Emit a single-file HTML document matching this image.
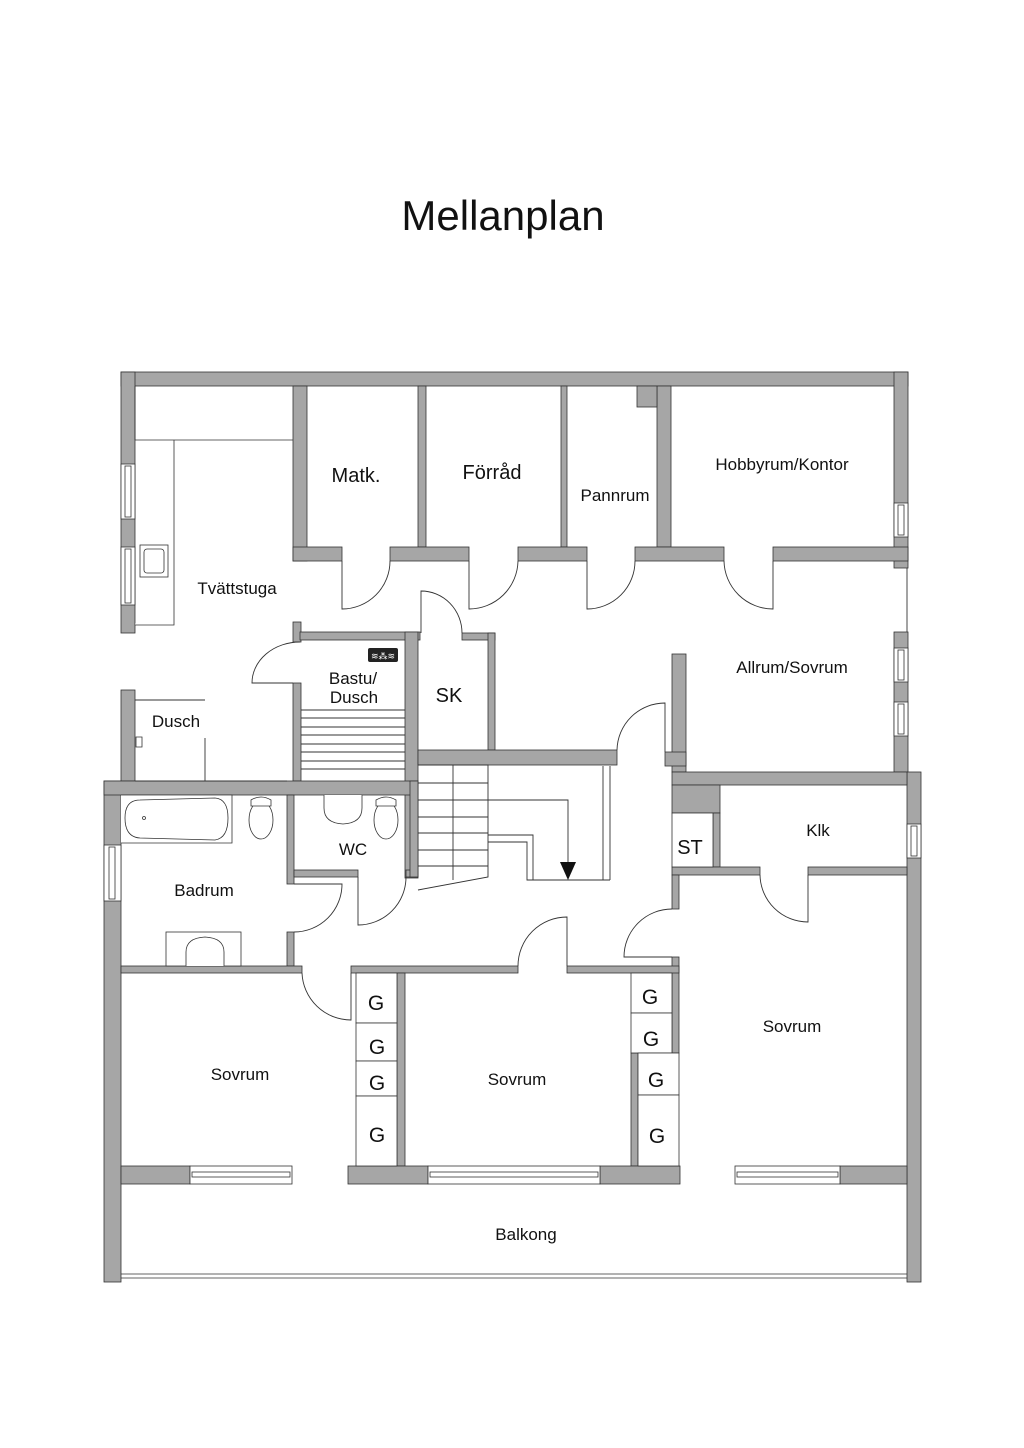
<!DOCTYPE html>
<html><head><meta charset="utf-8"><style>
html,body{margin:0;padding:0;background:#fff}
svg{display:block}
text{font-family:"Liberation Sans",sans-serif;fill:#111}
</style></head><body>
<svg width="1024" height="1448" viewBox="0 0 1024 1448" xmlns="http://www.w3.org/2000/svg">
<rect width="1024" height="1448" fill="#fff"/>
<text x="503" y="230" font-size="42" text-anchor="middle" font-weight="300">Mellanplan</text>
<g fill="#a6a6a6" stroke="#333" stroke-width="0.8">
<rect x="121" y="372" width="787" height="14"/>
<rect x="121" y="372" width="14" height="261"/>
<rect x="121" y="690" width="14" height="91"/>
<rect x="104" y="781" width="17" height="501"/>
<rect x="894" y="372" width="14" height="196"/>
<rect x="894" y="632" width="14" height="140"/>
<rect x="907" y="772" width="14" height="510"/>
<rect x="293" y="386" width="14" height="175"/>
<rect x="418" y="386" width="8" height="161"/>
<rect x="561" y="386" width="6" height="161"/>
<rect x="657" y="386" width="14" height="161"/>
<rect x="637" y="386" width="20" height="21"/>
<rect x="293" y="547" width="49" height="14"/>
<rect x="390" y="547" width="79" height="14"/>
<rect x="518" y="547" width="69" height="14"/>
<rect x="635" y="547" width="89" height="14"/>
<rect x="773" y="547" width="135" height="14"/>
<rect x="293" y="622" width="8" height="20"/>
<rect x="293" y="683" width="8" height="98"/>
<rect x="300" y="632" width="120" height="8"/>
<rect x="405" y="632" width="13" height="246"/>
<rect x="462" y="633" width="33" height="7"/>
<rect x="488" y="633" width="7" height="117"/>
<rect x="418" y="750" width="199" height="15"/>
<rect x="672" y="654" width="14" height="118"/>
<rect x="665" y="752" width="21" height="14"/>
<rect x="672" y="772" width="235" height="13"/>
<rect x="672" y="785" width="48" height="28"/>
<rect x="713" y="813" width="7" height="54"/>
<rect x="672" y="867" width="88" height="8"/>
<rect x="808" y="867" width="99" height="8"/>
<rect x="672" y="875" width="7" height="34"/>
<rect x="672" y="957" width="7" height="96"/>
<rect x="104" y="781" width="314" height="14"/>
<rect x="287" y="795" width="7" height="89"/>
<rect x="287" y="932" width="7" height="34"/>
<rect x="294" y="870" width="64" height="7"/>
<rect x="406" y="870" width="12" height="7"/>
<rect x="410" y="781" width="8" height="96"/>
<rect x="121" y="966" width="181" height="7"/>
<rect x="351" y="966" width="167" height="7"/>
<rect x="567" y="966" width="112" height="7"/>
<rect x="397" y="973" width="8" height="193"/>
<rect x="631" y="1053" width="7" height="113"/>
<rect x="121" y="1166" width="69" height="18"/>
<rect x="348" y="1166" width="80" height="18"/>
<rect x="600" y="1166" width="80" height="18"/>
<rect x="840" y="1166" width="67" height="18"/>
</g>
<g fill="#fff" stroke="#333" stroke-width="0.8">
<rect x="121" y="464" width="14" height="55"/><rect x="125" y="466" width="6" height="51"/>
<rect x="121" y="547" width="14" height="58"/><rect x="125" y="549" width="6" height="54"/>
<rect x="894" y="503" width="14" height="34"/><rect x="898" y="505" width="6" height="30"/>
<rect x="894" y="648" width="14" height="34"/><rect x="898" y="650" width="6" height="30"/>
<rect x="894" y="702" width="14" height="34"/><rect x="898" y="704" width="6" height="30"/>
<rect x="907" y="824" width="14" height="34"/><rect x="911" y="826" width="6" height="30"/>
<rect x="104" y="845" width="17" height="56"/><rect x="109" y="847" width="6" height="52"/>
<rect x="190" y="1166" width="102" height="18"/><rect x="192" y="1172" width="98" height="5"/>
<rect x="428" y="1166" width="172" height="18"/><rect x="430" y="1172" width="168" height="5"/>
<rect x="735" y="1166" width="105" height="18"/><rect x="737" y="1172" width="101" height="5"/>
<rect x="356" y="973" width="41" height="50"/><rect x="356" y="1023" width="41" height="38"/>
<rect x="356" y="1061" width="41" height="35"/><rect x="356" y="1096" width="41" height="70"/>
<rect x="631" y="973" width="41" height="40"/><rect x="631" y="1013" width="41" height="40"/>
<rect x="638" y="1053" width="41" height="42"/><rect x="638" y="1095" width="41" height="71"/>
<rect x="672" y="813" width="41" height="54"/>
<path d="M135 440H293M174 440V625H135"/>
<rect x="140" y="545" width="28" height="32"/>
<rect x="144" y="549" width="20" height="24" rx="3"/>
<path d="M121 795H232V843H121"/>
<path d="M140 800Q125 800 125 818Q125 837 140 838L215 840Q228 838 228 818Q228 799 215 798Z"/>
<circle cx="144" cy="818" r="1.5"/>
<ellipse cx="261" cy="820" rx="12" ry="19"/><path d="M251 800Q261 794 271 800V806H251Z"/>
<ellipse cx="386" cy="820" rx="12" ry="19"/><path d="M376 800Q386 794 396 800V806H376Z"/>
<path d="M324 795V808Q324 823 343 824Q362 823 362 808V795"/>
<rect x="166" y="932" width="75" height="34"/>
<path d="M186 966V952Q186 938 205 937Q224 938 224 952V966"/>
<path d="M121 1278H907M121 1274H907"/>
</g>
<g fill="none" stroke="#333" stroke-width="0.9">
<path d="M342 561V609A48 48 0 0 0 390 561"/>
<path d="M469 561V609A49 49 0 0 0 518 561"/>
<path d="M587 561V609A48 48 0 0 0 635 561"/>
<path d="M773 561V609A49 49 0 0 1 724 561"/>
<path d="M300 642A48 41 0 0 0 252 683H293"/>
<path d="M421 633V591A41 42 0 0 1 462 633"/>
<path d="M665 752V703A48 48 0 0 0 617 750"/>
<path d="M808 875V922A48 48 0 0 1 760 875"/>
<path d="M672 909A48 48 0 0 0 624 957H672"/>
<path d="M567 966V917A49 49 0 0 0 518 966"/>
<path d="M302 973A49 49 0 0 0 351 1020V973"/>
<path d="M294 884H342A48 48 0 0 1 294 932"/>
<path d="M358 877V925A48 48 0 0 0 406 877"/>
<path d="M135 700H205M205 738V781"/>
<path d="M135 781H287"/>
<path d="M135 386V440"/>
<path d="M301 710H405M301 718H405M301 727H405M301 735H405M301 744H405M301 752H405M301 761H405M301 769H405"/>
<path d="M418 765H488V877L418 890"/>
<path d="M453 765V880"/>
<path d="M418 783H488M418 800H488M418 817H488M418 833H488M418 850H488M418 866H488"/>
<path d="M488 800H568V862M488 835H533V880M488 842H527V880H610M603 766V880M610 766V880"/>
<path d="M907 568V632"/>
</g>
<path d="M560 862H576L568 880Z" fill="#111"/>
<rect x="368" y="648" width="30" height="14" rx="2" fill="#222"/>
<text x="383" y="659" font-size="9" text-anchor="middle" style="fill:#fff">≋⁂≋</text>
<path d="M136 737h6v10h-6z" fill="none" stroke="#333" stroke-width="0.8"/>
<g font-size="17" text-anchor="middle">
<text x="356" y="482" font-size="20">Matk.</text>
<text x="492" y="479" font-size="20">Förråd</text>
<text x="615" y="501">Pannrum</text>
<text x="782" y="470">Hobbyrum/Kontor</text>
<text x="237" y="594">Tvättstuga</text>
<text x="792" y="673">Allrum/Sovrum</text>
<text x="353" y="684">Bastu/</text>
<text x="354" y="703">Dusch</text>
<text x="449" y="702" font-size="20">SK</text>
<text x="176" y="727">Dusch</text>
<text x="353" y="855">WC</text>
<text x="690" y="854" font-size="20">ST</text>
<text x="818" y="836">Klk</text>
<text x="204" y="896">Badrum</text>
<text x="240" y="1080">Sovrum</text>
<text x="517" y="1085">Sovrum</text>
<text x="792" y="1032">Sovrum</text>
<text x="526" y="1240">Balkong</text>
</g>
<g font-size="21" text-anchor="middle">
<text x="376" y="1010">G</text><text x="377" y="1054">G</text><text x="377" y="1090">G</text><text x="377" y="1142">G</text>
<text x="650" y="1004">G</text><text x="651" y="1046">G</text><text x="656" y="1087">G</text><text x="657" y="1143">G</text>
</g>
</svg>
</body></html>
